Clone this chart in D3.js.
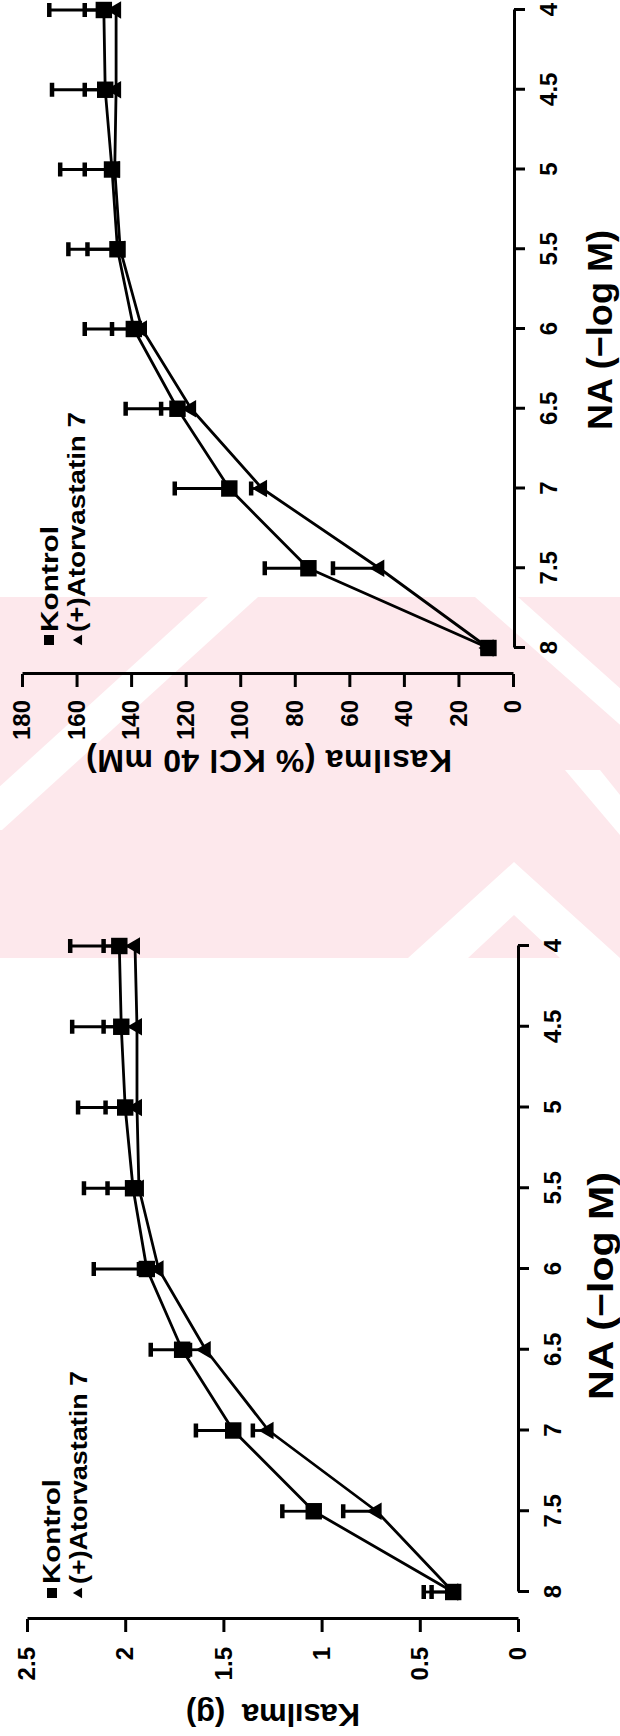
<!DOCTYPE html>
<html>
<head>
<meta charset="utf-8">
<script src="https://cdn.jsdelivr.net/npm/d3@7"></script>
<style>
  body { margin: 0; background: #fff; }
  svg { display: block; }
  text { font-family: "Liberation Sans", Arial, sans-serif; font-weight: bold; }
</style>
</head>
<body>
<svg id="fig" width="620" height="1736"></svg>
<script>
// NA doses (-log M), shared by both panels
const doses = [8, 7.5, 7, 6.5, 6, 5.5, 5, 4.5, 4];
const doseLabels = ['8', '7.5', '7', '6.5', '6', '5.5', '5', '4.5', '4'];

// upper panel: contraction as % of KCl 40 mM
const kclKontrol = [9, 75, 104, 123, 139, 145, 147, 149.5, 150];
const kclKontrolErr = [11, 91, 124, 142, 157, 163, 166, 169, 170];
const kclAtor = [9, 49, 92, 118, 136, 144, 146, 145.5, 145.5];
const kclAtorErr = [11, 66, 96, 129, 147, 156, 157, 157, 157];
const kclTicks = [0, 20, 40, 60, 80, 100, 120, 140, 160, 180];
const kclTickLabels = ['0', '20', '40', '60', '80', '100', '120', '140', '160', '180'];

// lower panel: contraction in grams
const gKontrol = [0.33, 1.04, 1.45, 1.71, 1.89, 1.96, 2.0, 2.02, 2.03];
const gKontrolErr = [0.48, 1.2, 1.64, 1.87, 2.16, 2.21, 2.24, 2.27, 2.28];
const gAtor = [0.33, 0.72, 1.27, 1.59, 1.83, 1.93, 1.94, 1.94, 1.95];
const gAtorErr = [0.44, 0.89, 1.35, 1.67, 1.93, 2.09, 2.1, 2.11, 2.11];
const gTicks = [0, 0.5, 1, 1.5, 2, 2.5];
const gTickLabels = ['0', '0.5', '1', '1.5', '2', '2.5'];

const legendNames = ['Kontrol', '(+)Atorvastatin 7'];
const xTitle = 'NA (\u2212log M)';

const svg = d3.select('#fig');

// faint pink watermark band behind the figure
const wm = svg.append('g');
wm.append('rect').attr('x', 0).attr('y', 597).attr('width', 620).attr('height', 361).attr('fill', '#fde8ec');
[
  [[208, 597], [258, 597], [2, 830], [-48, 830]],
  [[475, 597], [518, 597], [700, 760], [660, 760]],
  [[514, 862], [620, 958], [560, 958], [514, 915], [468, 958], [408, 958]],
  [[565, 770], [600, 770], [640, 820], [620, 835]]
].forEach(pts => {
  wm.append('polygon').attr('points', pts.map(p => p.join(',')).join(' ')).attr('fill', '#fff');
});

// each panel is drawn in the unrotated frame, then turned 90 degrees to the left
const panels = [
  {
    ty: 700, y8: 648, y4: 10, x0: 513, xMax: 22, max: 180,
    xAxisY: 514, yAxisX: 26, yPad: 13,
    ticks: kclTicks, tickLabels: kclTickLabels,
    kontrol: kclKontrol, kontrolErr: kclKontrolErr, ator: kclAtor, atorErr: kclAtorErr,
    yTitle: 'Kas\u0131lma (% KCl 40 mM)', yTitleAt: [750, 269], yTitleSize: 32, yTitleLen: 366,
    xTitleAt: [330, 612], xTitleLen: 200,
    legendY: 640, legendTextY: 632, legendX: [49, 79], legendBase: [58, 85], legendLen: [106, 220]
  },
  {
    ty: 1650, y8: 1592, y4: 946, x0: 518, xMax: 27, max: 2.5,
    xAxisY: 518, yAxisX: 31, yPad: 15,
    ticks: gTicks, tickLabels: gTickLabels,
    kontrol: gKontrol, kontrolErr: gKontrolErr, ator: gAtor, atorErr: gAtorErr,
    yTitle: 'Kas\u0131lma\u00a0 (g)', yTitleAt: [1704, 273], yTitleSize: 31, yTitleLen: 174,
    xTitleAt: [1286, 613], xTitleLen: 228,
    legendY: 1593, legendTextY: 1584, legendX: [52, 79], legendBase: [60, 87], legendLen: [105, 213]
  }
];

function styleAxis(a) {
  a.attr('font-size', 24).attr('font-family', '"Liberation Sans", Arial, sans-serif').attr('font-weight', 'bold');
  a.select('.domain').attr('stroke', '#000').attr('stroke-width', 3);
  a.selectAll('.tick line').attr('stroke', '#000').attr('stroke-width', 3);
  a.selectAll('.tick text').attr('fill', '#000');
}

function drawPanel(p) {
  const g = svg.append('g').attr('transform', `translate(0,${p.ty}) rotate(-90)`);

  const x = d3.scaleLinear().domain([8, 4]).range([p.ty - p.y8, p.ty - p.y4]);
  const y = d3.scaleLinear().domain([0, p.max]).range([p.x0, p.xMax]);

  g.append('g')
    .attr('transform', `translate(0,${p.xAxisY})`)
    .call(d3.axisBottom(x).tickValues(doses).tickFormat((d, i) => doseLabels[i])
      .tickSize(11).tickPadding(15).tickSizeOuter(0))
    .call(styleAxis);

  g.append('g')
    .attr('transform', `translate(${p.yAxisX},0)`)
    .call(d3.axisLeft(y).tickValues(p.ticks).tickFormat((d, i) => p.tickLabels[i])
      .tickSize(13).tickPadding(p.yPad).tickSizeOuter(0))
    .call(styleAxis);

  // axis titles
  g.append('text')
    .attr('x', p.ty - p.xTitleAt[0])
    .attr('y', p.xTitleAt[1])
    .attr('text-anchor', 'middle')
    .attr('font-size', 35)
    .attr('textLength', p.xTitleLen)
    .attr('lengthAdjust', 'spacingAndGlyphs')
    .text(xTitle);

  g.append('text')
    .attr('transform', `translate(${p.ty - p.yTitleAt[0]},${p.yTitleAt[1]}) rotate(-90)`)
    .attr('text-anchor', 'middle')
    .attr('font-size', p.yTitleSize)
    .attr('textLength', p.yTitleLen)
    .attr('lengthAdjust', 'spacing')
    .text(p.yTitle);

  const series = [
    { vals: p.kontrol, errs: p.kontrolErr, type: d3.symbolSquare, size: 270 },
    { vals: p.ator, errs: p.atorErr, type: d3.symbolTriangle, size: 130 }
  ];

  // one-sided error bars
  series.forEach(s => {
    const eb = g.append('g').attr('stroke', '#000');
    eb.selectAll('line.bar')
      .data(doses)
      .enter()
      .append('line')
      .attr('class', 'bar')
      .attr('x1', d => x(d)).attr('x2', d => x(d))
      .attr('y1', (d, i) => y(s.vals[i]))
      .attr('y2', (d, i) => y(s.errs[i]))
      .attr('stroke-width', 2.8);
    eb.selectAll('line.cap')
      .data(doses)
      .enter()
      .append('line')
      .attr('class', 'cap')
      .attr('x1', d => x(d) - 7).attr('x2', d => x(d) + 7)
      .attr('y1', (d, i) => y(s.errs[i]))
      .attr('y2', (d, i) => y(s.errs[i]))
      .attr('stroke-width', 4.5);
  });

  series.forEach(s => {
    const line = d3.line().x(d => x(d)).y((d, i) => y(s.vals[i]));
    g.append('path')
      .datum(doses)
      .attr('d', line)
      .attr('fill', 'none')
      .attr('stroke', '#000')
      .attr('stroke-width', 2.8)
      .attr('stroke-linejoin', 'round');
  });

  series.forEach(s => {
    g.selectAll(null)
      .data(doses)
      .enter()
      .append('path')
      .attr('transform', (d, i) => `translate(${x(d)},${y(s.vals[i])})`)
      .attr('d', d3.symbol().type(s.type).size(s.size))
      .attr('fill', '#000');
  });

  // legend
  const legendTypes = [d3.symbolSquare, d3.symbolTriangle];
  const legendSizes = [100, 48];
  legendNames.forEach((name, i) => {
    g.append('path')
      .attr('transform', `translate(${p.ty - p.legendY},${p.legendX[i]})`)
      .attr('d', d3.symbol().type(legendTypes[i]).size(legendSizes[i]))
      .attr('fill', '#000');
    g.append('text')
      .attr('x', p.ty - p.legendTextY)
      .attr('y', p.legendBase[i])
      .attr('font-size', 23)
      .attr('textLength', p.legendLen[i])
      .attr('lengthAdjust', 'spacingAndGlyphs')
      .text(name);
  });
}

panels.forEach(drawPanel);
</script>
</body>
</html>
